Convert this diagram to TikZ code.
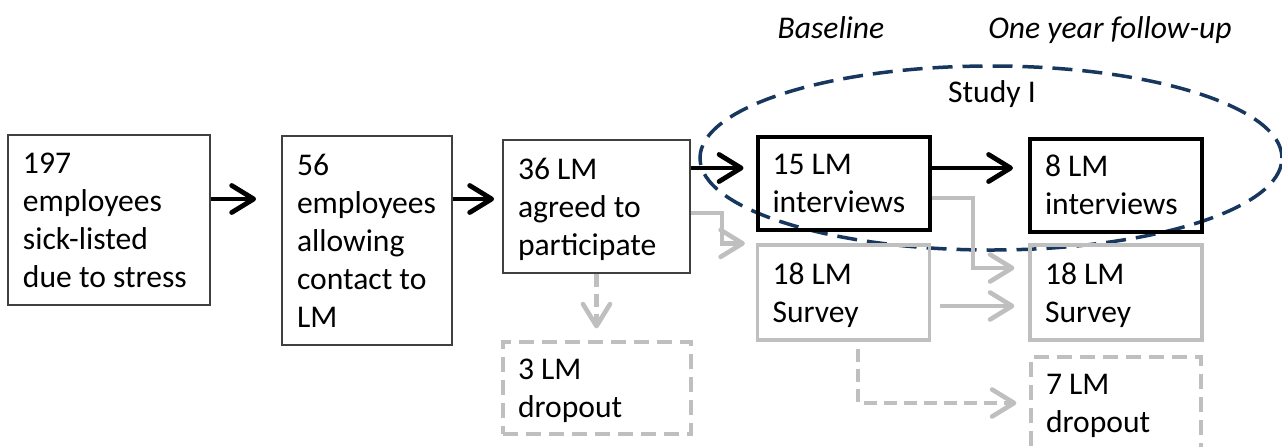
\documentclass[tikz,border=0pt]{standalone}
\usepackage{fontspec}
\usepackage{array}
\setmainfont{Carlito}
\usetikzlibrary{arrows.meta,calc}
\definecolor{navy}{RGB}{23,55,94}
\definecolor{lightgrey}{RGB}{191,191,191}
% left-aligned block of lines of a fixed width, set slightly low in its box
\newcommand{\flowtext}[2]{\raisebox{-1.5pt}[\height][\depth]{\begin{tabular}{@{}p{#1}@{}}#2\end{tabular}}}
\begin{document}
\begin{tikzpicture}[x=0.5pt,y=-0.5pt,
  txtfont/.style={font=\fontsize{15.8}{19}\selectfont},
  headline/.style={font=\fontsize{15.8}{19}\selectfont\itshape},
  box/.style={draw, rectangle, txtfont, inner xsep=7.5pt, inner ysep=0pt},
  plainbox/.style={box, draw=black!75, line width=0.9pt},
  boldbox/.style={box, draw=black, line width=2pt},
  palebox/.style={box, draw=lightgrey, line width=1.6pt},
  dropbox/.style={palebox, dash pattern=on 7.5pt off 4pt},
  blk/.style={draw=black, line width=2.4pt,
    -{Straight Barb[length=11pt,width=13.5pt,round]}},
  gry/.style={draw=lightgrey, line width=2.3pt,
    -{Straight Barb[length=11pt,width=13.5pt,round]}},
  grydash/.style={gry, dash pattern=on 6.5pt off 3.5pt},
  ]
\useasboundingbox (0,0) rectangle (1282,446);

% column headings
\node[headline, anchor=base] (hbase) at (831,38) {Baseline};
\node[headline, anchor=base] (hfollow) at (1110,38) {One year follow-up};

% study I grouping
\draw[navy, line width=1.75pt, dash pattern=on 10pt off 5pt]
  (991,158) ellipse [x radius=145.5pt, y radius=46pt];
\node[txtfont, anchor=base] (study) at (992,102) {Study I};

% recruitment chain
\node[plainbox, minimum height=85pt] (A) at (109,220)
  {\flowtext{86pt}{197\\employees\\sick-listed\\due to stress}};
\node[plainbox, minimum height=104.5pt] (B) at (367,240.5)
  {\flowtext{70pt}{56\\employees\\allowing\\contact to\\LM}};
\node[plainbox, minimum height=66.5pt] (C) at (596.5,206.5)
  {\flowtext{78.5pt}{36 LM\\agreed to\\participate}};
\node[dropbox, minimum height=46pt] (D) at (597,388)
  {\flowtext{79pt}{3 LM\\dropout}};

% baseline and follow-up groups
\node[boldbox, minimum height=46.5pt] (E) at (843.5,183)
  {\flowtext{71pt}{15 LM\\interviews}};
\node[boldbox, minimum height=46.5pt] (F) at (1116,185)
  {\flowtext{71pt}{8 LM\\interviews}};
\node[palebox, minimum height=47.5pt] (G) at (843.5,292.5)
  {\flowtext{71pt}{18 LM\\Survey}};
\node[palebox, minimum height=47.5pt] (H) at (1116,292.5)
  {\flowtext{71pt}{18 LM\\Survey}};
\node[dropbox, minimum height=46pt] (I) at (1116,403)
  {\flowtext{70pt}{7 LM\\dropout}};

% levels and bends of the connectors
\coordinate (rowA) at (0,199);
\coordinate (rowC) at (0,168);
\coordinate (j1) at (722,213);
\coordinate (j2) at (973,198);
\coordinate (rowH) at (0,268);
\coordinate (rowG) at (0,306);
\coordinate (j4) at (858,0);

% black flow
\draw[blk, shorten >=12.5pt] (A.east |- rowA) -- (B.west |- rowA);
\draw[blk, shorten >=4pt] (B.east |- rowA) -- (C.west |- rowA);
\draw[blk, shorten >=6pt] (C.east |- rowC) -- (E.west |- rowC);
\draw[blk, shorten >=7.5pt] (E.east |- rowC) -- (F.west |- rowC);

% grey flow
\draw[gry, shorten >=5.5pt] (C.east |- j1) -| (j1 |- G.north) -- (G.north west);
\draw[gry, shorten >=7pt] (E.east |- j2) -| (j2 |- rowH) -- (H.west |- rowH);
\draw[gry, shorten <=4.25pt, shorten >=7pt] (G.east |- rowG) -- (H.west |- rowG);
\draw[grydash, shorten >=6pt] (C.south) -- (D.north -| C.south);
\draw[grydash, shorten <=3.5pt, shorten >=6.5pt] (G.south -| j4) |- (I.west);
\end{tikzpicture}
\end{document}
